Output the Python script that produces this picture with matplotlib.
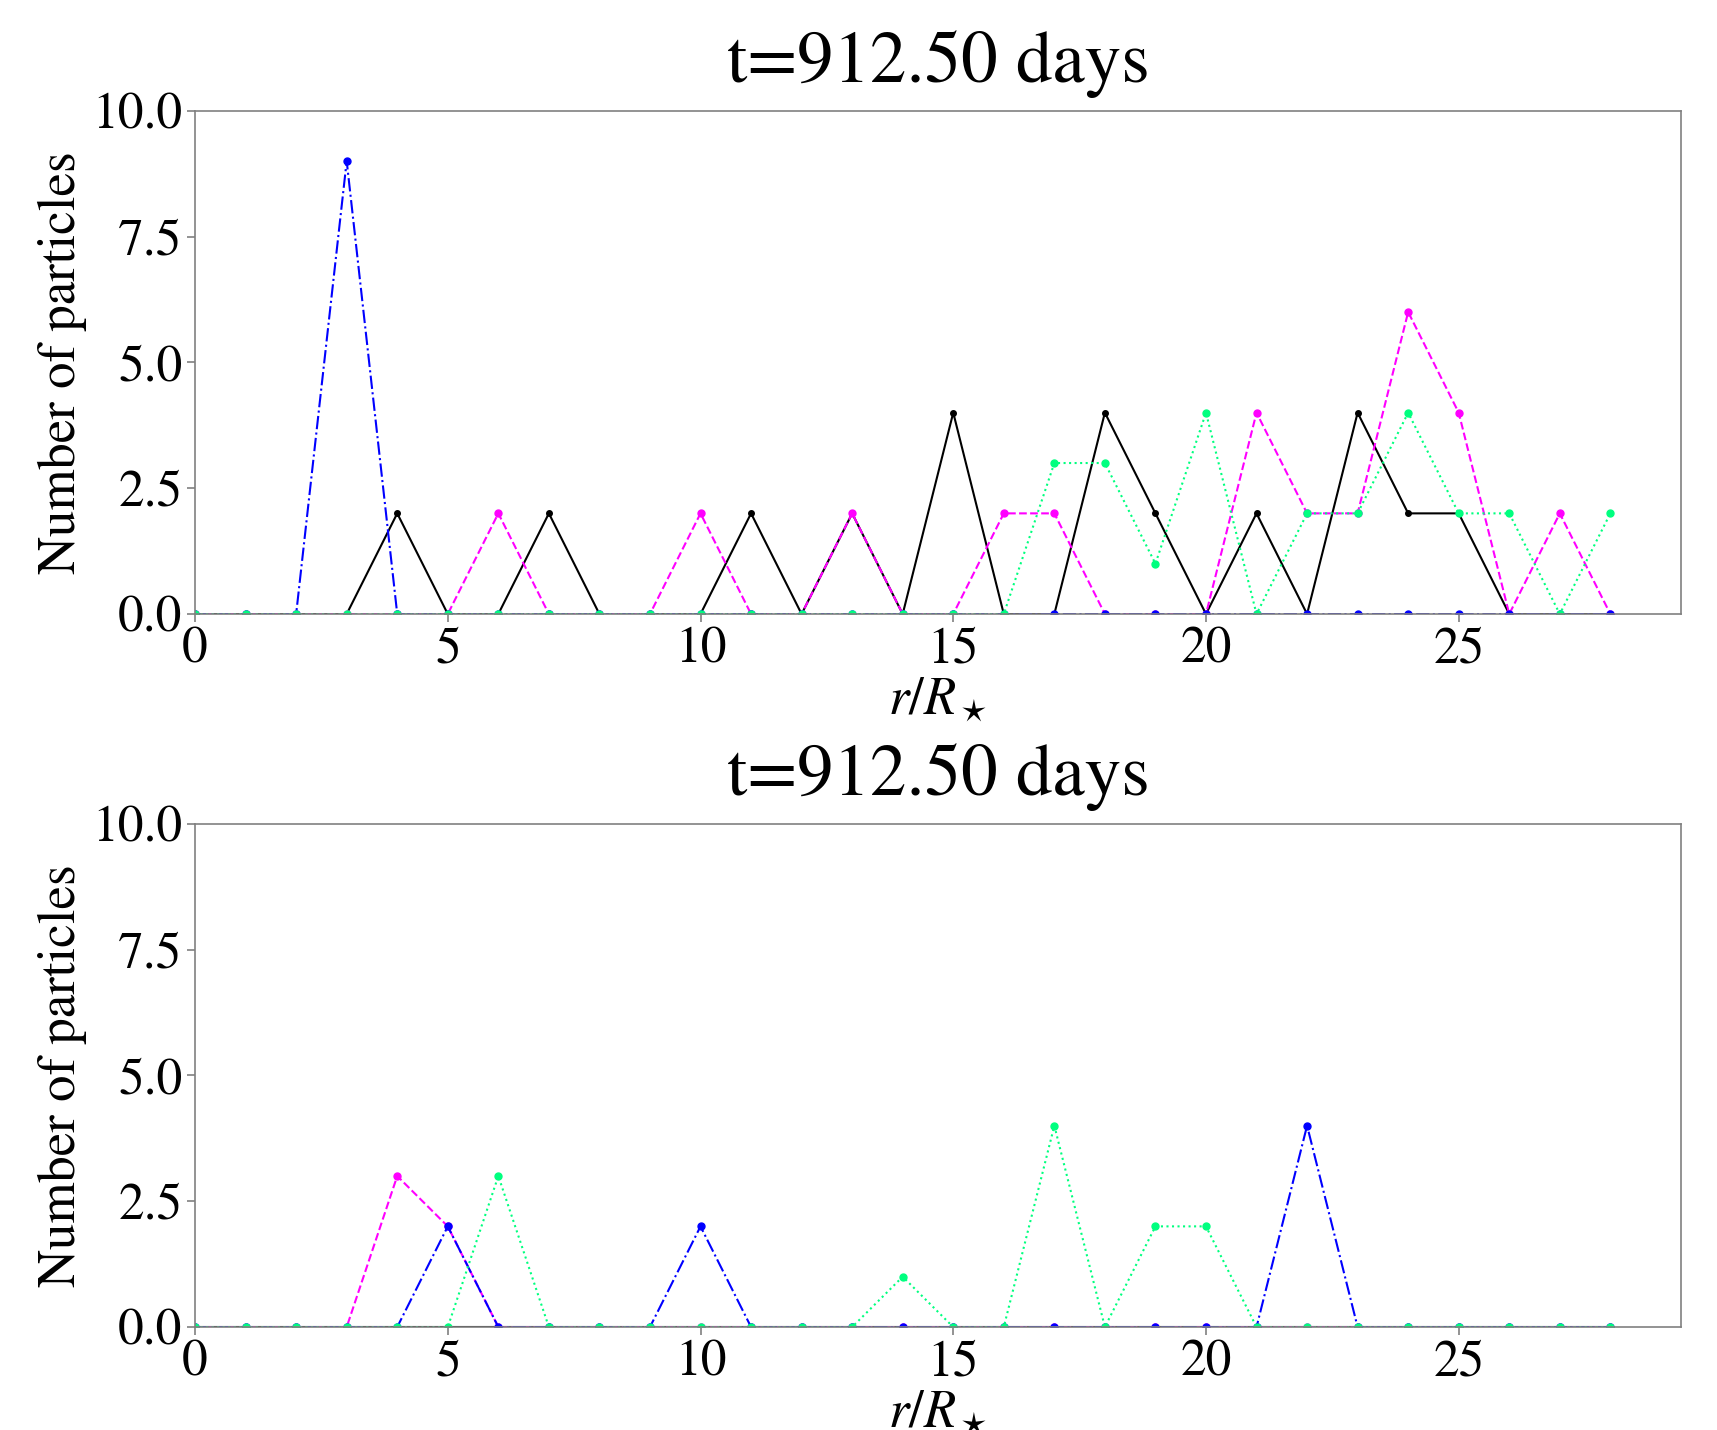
import matplotlib
matplotlib.use("Agg")
import matplotlib.pyplot as plt
import numpy as np

plt.rcParams["font.family"] = ["STIXGeneral", "Liberation Serif", "DejaVu Serif"]
plt.rcParams["mathtext.fontset"] = "stix"

# radial bins r/R_star
r = np.arange(0, 29)

# top panel counts
top_black = [0, 0, 0, 0, 2, 0, 0, 2, 0, 0, 0, 2, 0, 2, 0, 4, 0, 0, 4, 2, 0, 2, 0, 4, 2, 2, 0, 0, 0]
top_magenta = [0, 0, 0, 0, 0, 0, 2, 0, 0, 0, 2, 0, 0, 2, 0, 0, 2, 2, 0, 0, 0, 4, 2, 2, 6, 4, 0, 2, 0]
top_blue = [0, 0, 0, 9, 0, 0, 0, 0, 0, 0, 0, 0, 0, 0, 0, 0, 0, 0, 0, 0, 0, 0, 0, 0, 0, 0, 0, 0, 0]
top_green = [0, 0, 0, 0, 0, 0, 0, 0, 0, 0, 0, 0, 0, 0, 0, 0, 0, 3, 3, 1, 4, 0, 2, 2, 4, 2, 2, 0, 2]

# bottom panel counts
bot_black = [0] * 29
bot_magenta = [0, 0, 0, 0, 3, 2, 0, 0, 0, 0, 0, 0, 0, 0, 0, 0, 0, 0, 0, 0, 0, 0, 0, 0, 0, 0, 0, 0, 0]
bot_blue = [0, 0, 0, 0, 0, 2, 0, 0, 0, 0, 2, 0, 0, 0, 0, 0, 0, 0, 0, 0, 0, 0, 4, 0, 0, 0, 0, 0, 0]
bot_green = [0, 0, 0, 0, 0, 0, 3, 0, 0, 0, 0, 0, 0, 0, 1, 0, 0, 4, 0, 2, 2, 0, 0, 0, 0, 0, 0, 0, 0]

title = "t=912.50 days"

fig = plt.figure(figsize=(17.17, 14.30), dpi=100)
ax1 = fig.add_axes([0.1136, 0.5706, 0.8655, 0.352])
ax2 = fig.add_axes([0.1136, 0.072, 0.8655, 0.352])


def draw(ax, black, magenta, blue, green):
    ax.plot(r, black, color="black", linestyle="-", marker="o", markersize=4, linewidth=1.5)
    ax.plot(r, magenta, color="magenta", linestyle="--", marker="o", markersize=5, linewidth=1.5)
    ax.plot(r, blue, color="blue", linestyle="-.", marker="o", markersize=5, linewidth=1.5)
    ax.plot(r, green, color="springgreen", linestyle=":", marker="o", markersize=5, linewidth=1.5)
    ax.set_xlim(0, 29.4)
    ax.set_ylim(0, 10)
    ax.set_yticks([0, 2.5, 5.0, 7.5, 10.0])
    ax.set_yticklabels(["0.0", "2.5", "5.0", "7.5", "10.0"])
    ax.set_xticks([0, 5, 10, 15, 20, 25])
    ax.tick_params(labelsize=37, colors="gray", labelcolor="black", length=6, width=1.2, pad=3)
    for s in ax.spines.values():
        s.set_color("gray")
        s.set_linewidth(1.2)
    ax.set_title(title, fontsize=52.5, pad=21)
    ax.set_ylabel("Number of particles", fontsize=38, labelpad=4)
    ax.set_xlabel(r"$r/R_\star$", fontsize=38, labelpad=3)


draw(ax1, top_black, top_magenta, top_blue, top_green)
draw(ax2, bot_black, bot_magenta, bot_blue, bot_green)

fig.savefig("out.png", dpi=100)
